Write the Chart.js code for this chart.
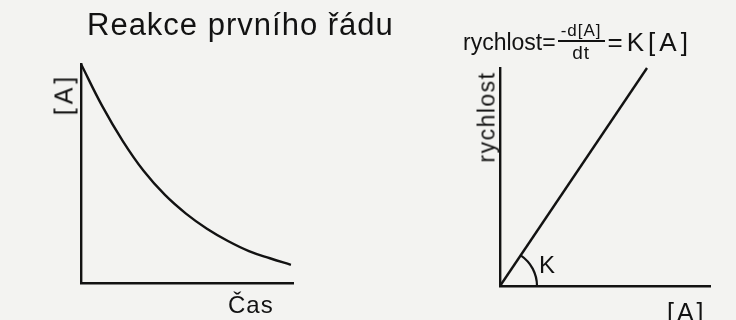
<!DOCTYPE html>
<html>
<head>
<meta charset="utf-8">
<script src="https://cdn.jsdelivr.net/npm/chart.js@4/dist/chart.umd.min.js"></script>
<style>
  html, body { margin: 0; padding: 0; }
  body { width: 736px; height: 320px; background: #f3f3f1; position: relative; overflow: hidden;
         font-family: "Liberation Sans", Arial, sans-serif; color: #121212; }
  .layer { position: absolute; left: 0; top: 0; width: 736px; height: 320px; }
  .txt { position: absolute; line-height: 1; white-space: nowrap; }
  .rot { transform: translate(-50%, -50%) rotate(-90deg); }
  .frac { display: inline-flex; flex-direction: column; align-items: center; vertical-align: middle; margin: 0 3px 0 2px; }
  .frac .num { font-size: 17px; border-bottom: 2px solid #121212; padding: 0 3px 1px 3px; letter-spacing: 1px; }
  .frac .den { font-size: 19px; padding-top: 1px; letter-spacing: 1px; }
</style>
</head>
<body>
<div class="layer"><canvas id="c1" width="736" height="320"></canvas></div>
<div class="layer"><canvas id="c2" width="736" height="320"></canvas></div>

<div class="txt" style="left:87px; top:9px; font-size:31px; letter-spacing:1px;">Reakce prvního řádu</div>
<div class="txt rot" style="left:64px; top:94px; font-size:25px; letter-spacing:4px;">[A]</div>
<div class="txt" style="left:228px; top:293px; font-size:24px; letter-spacing:1px;">Čas</div>

<div class="txt" style="left:463px; top:22px; font-size:23px; display:flex; align-items:center;">
  <span>rychlost=</span><span class="frac"><span class="num">-d[A]</span><span class="den">dt</span></span><span style="font-size:26px; letter-spacing:4px;">=K[A]</span>
</div>
<div class="txt rot" style="left:487px; top:117px; font-size:23px; letter-spacing:1.5px;">rychlost</div>
<div class="txt" style="left:539px; top:253px; font-size:24px;">K</div>
<div class="txt" style="left:667px; top:300px; font-size:25px; letter-spacing:3px;">[A]</div>

<script>
// ---- Data: left panel (first-order decay of [A] over time) ----
const timeValues = [0, 1, 2, 3, 4, 5, 6, 7, 8, 9, 10];
const concValues = [100, 81, 64.7, 51, 40.2, 31.7, 24.8, 19.2, 14.6, 11.3, 8.3];

// ---- Data: right panel (rate vs [A], straight line through origin) ----
const concA = [0, 7];
const rateValues = [0, 10];

const INK = '#121212';

function axisOpts(min, max) {
  return {
    type: 'linear', min: min, max: max, display: true,
    ticks: { display: false },
    grid: { display: false, drawTicks: false },
    border: { display: true, color: INK, width: 2.4 }
  };
}

const commonPlugins = { legend: { display: false }, tooltip: { enabled: false }, title: { display: false } };

new Chart(document.getElementById('c1'), {
  type: 'line',
  data: {
    datasets: [{
      data: timeValues.map((t, i) => ({ x: t, y: concValues[i] })),
      borderColor: INK, borderWidth: 2.4, pointRadius: 0,
      tension: 0.4, fill: false, clip: false
    }]
  },
  options: {
    responsive: false, animation: false, devicePixelRatio: 1,
    layout: { padding: { left: 81, top: 64, right: 443, bottom: 37 } },
    scales: { x: axisOpts(0, 10.1), y: axisOpts(0, 100) },
    plugins: commonPlugins
  }
});

const anglePlugin = {
  id: 'angleArc',
  afterDatasetsDraw(chart) {
    const xs = chart.scales.x, ys = chart.scales.y;
    const ox = xs.getPixelForValue(concA[0]), oy = ys.getPixelForValue(rateValues[0]);
    const px = xs.getPixelForValue(concA[1]), py = ys.getPixelForValue(rateValues[1]);
    const ang = Math.atan2(py - oy, px - ox);
    const ctx = chart.ctx;
    ctx.save();
    ctx.strokeStyle = INK; ctx.lineWidth = 2.2;
    ctx.beginPath();
    ctx.arc(ox, oy, 37, ang, 0);
    ctx.stroke();
    ctx.restore();
  }
};

new Chart(document.getElementById('c2'), {
  type: 'line',
  data: {
    datasets: [{
      data: concA.map((a, i) => ({ x: a, y: rateValues[i] })),
      borderColor: INK, borderWidth: 2.4, pointRadius: 0, fill: false, clip: false
    }]
  },
  options: {
    responsive: false, animation: false, devicePixelRatio: 1,
    layout: { padding: { left: 500, top: 68, right: 26, bottom: 34 } },
    scales: { x: axisOpts(0, 10), y: axisOpts(0, 10) },
    plugins: commonPlugins
  },
  plugins: [anglePlugin]
});
</script>
</body>
</html>
